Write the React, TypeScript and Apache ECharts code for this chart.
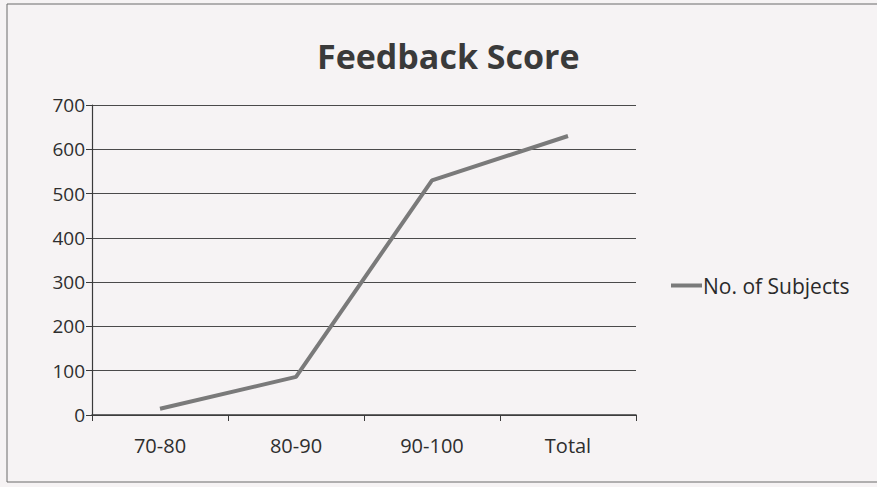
import React, { useEffect, useRef } from "react";
import * as echarts from "echarts";

const categories = ["70-80", "80-90", "90-100", "Total"];
const subjects = [14, 86, 530, 630];
const yTicks = [0, 100, 200, 300, 400, 500, 600, 700];
const seriesName = "No. of Subjects";
const titleText = "Feedback Score";

export default function App() {
  const ref = useRef<HTMLDivElement>(null);
  useEffect(() => {
    document.body.style.margin = "0";
    const chart = echarts.init(ref.current!, undefined, { renderer: "svg" });
    chart.setOption({
      animation: false,
      backgroundColor: "#f6f3f4",
      textStyle: { fontFamily: "Open Sans" },
      title: {
        text: titleText,
        left: 312,
        top: 34,
        textStyle: { fontFamily: "Open Sans", fontWeight: "bold", fontSize: 34, color: "#3a3a3a" },
      },
      legend: {
        data: [seriesName],
        orient: "vertical",
        left: 666,
        top: 270,
        itemWidth: 31,
        itemHeight: 4,
        itemGap: 4,
        icon: "rect",
        textStyle: { fontFamily: "Open Sans", fontSize: 21, color: "#2a2a2a", padding: [0, 0, 0, -4] },
      },
      grid: { left: 92, right: 241, top: 105, bottom: 72 },
      xAxis: {
        type: "category",
        data: categories,
        boundaryGap: true,
        axisLine: { show: true, lineStyle: { color: "#3a3a3a", width: 1.5 } },
        axisTick: { show: true, length: 6, lineStyle: { color: "#3a3a3a" } },
        axisLabel: { margin: 20, fontFamily: "Open Sans", fontSize: 20, color: "#2e2e2e" },
        splitLine: { show: false },
      },
      yAxis: {
        type: "value",
        min: yTicks[0],
        max: yTicks[yTicks.length - 1],
        interval: 100,
        axisLine: { show: true, lineStyle: { color: "#3a3a3a", width: 1.2 } },
        axisTick: { show: true, length: 6, lineStyle: { color: "#3a3a3a" } },
        axisLabel: { margin: 7, fontFamily: "Open Sans", fontSize: 19, color: "#2e2e2e" },
        splitLine: { show: true, lineStyle: { color: "#4a4a4a", width: 1 } },
      },
      series: [
        {
          name: seriesName,
          type: "line",
          data: subjects,
          symbol: "none",
          lineStyle: { color: "#7a7a7a", width: 4 },
          itemStyle: { color: "#7a7a7a" },
        },
      ],
      graphic: [
        {
          type: "rect",
          shape: { x: 7, y: 4, width: 880, height: 478 },
          style: { fill: "none", stroke: "#6a6a6a", lineWidth: 1 },
          silent: true,
        },
      ],
    });
    return () => chart.dispose();
  }, []);
  return <div ref={ref} style={{ position: "absolute", left: 0, top: 0, width: 877, height: 487 }} />;
}
